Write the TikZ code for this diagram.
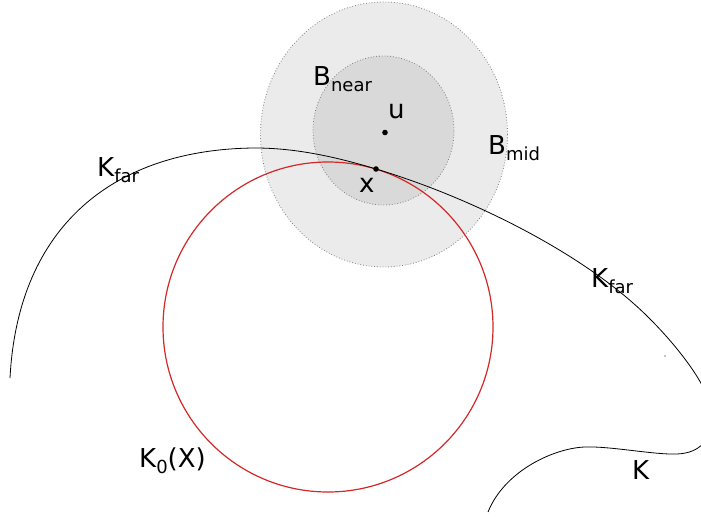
\documentclass[tikz,border=0pt]{standalone}
\usepackage{fontspec}
\setmainfont{DejaVu Sans}
\usepackage{tikz}

\newcommand{\lowsub}[1]{\raisebox{-6pt}{\fontsize{18}{18}\selectfont #1}}

\definecolor{ballout}{RGB}{235,235,235}
\definecolor{ballin}{RGB}{217,217,217}
\definecolor{kred}{RGB}{210,40,40}

\begin{document}
\begin{tikzpicture}[x=1pt, y=-1pt,
	lbl/.style={anchor=base west, inner sep=0pt, font=\fontsize{26}{30}\selectfont},
	ballrim/.style={dotted, gray, line width=0.8pt}]
	\useasboundingbox (0,0) rectangle (701,518);
	\clip (0,0) rectangle (701,518);

	\coordinate (u) at (385,132.5);
	\coordinate (x) at (376,169);
	\coordinate (c0) at (328,327);

	% the two balls round u
	\filldraw [ballrim, fill=ballout] (384,134.5) ellipse [x radius=123.5pt, y radius=132.5pt];
	\filldraw [ballrim, fill=ballin] (383.5,130.5) ellipse [x radius=70.5pt, y radius=74.5pt];

	\draw [kred, line width=1.2pt] (c0) circle [radius=165pt];

	% the boundary K
	\draw [black, line width=0.8pt] (10,378)
		.. controls (18,225) and (115,149) .. (255,148)
		.. controls (297,148) and (338,157.5) .. (x)
		.. controls (472,197.7) and (587,255) .. (650,319)
		.. controls (678,347) and (712,390) .. (712,415)
		.. controls (712,440) and (700,453) .. (677,454)
		.. controls (655,455) and (610,446) .. (585,447)
		.. controls (555,448) and (505,470) .. (488,512);

	\fill (u) circle (2.8pt);
	\fill (x) circle (2.8pt);
	\fill (665,356) circle (0.7pt);

	\node [lbl] (bnear) at (313,86) {B\lowsub{near}};
	\node [lbl] (ulbl) at (388,119) {u};
	\node [lbl] (xlbl) at (359,193) {x};
	\node [lbl] (bmid) at (488,155) {B\lowsub{mid}};
	\node [lbl] (kfarl) at (97,177) {K\lowsub{far}};
	\node [lbl] (kfarr) at (591,288) {K\lowsub{far}};
	\node [lbl] (k) at (632,479) {K};
	\node [lbl] (k0) at (139,467) {K\lowsub{0}(X)};
\end{tikzpicture}
\end{document}
